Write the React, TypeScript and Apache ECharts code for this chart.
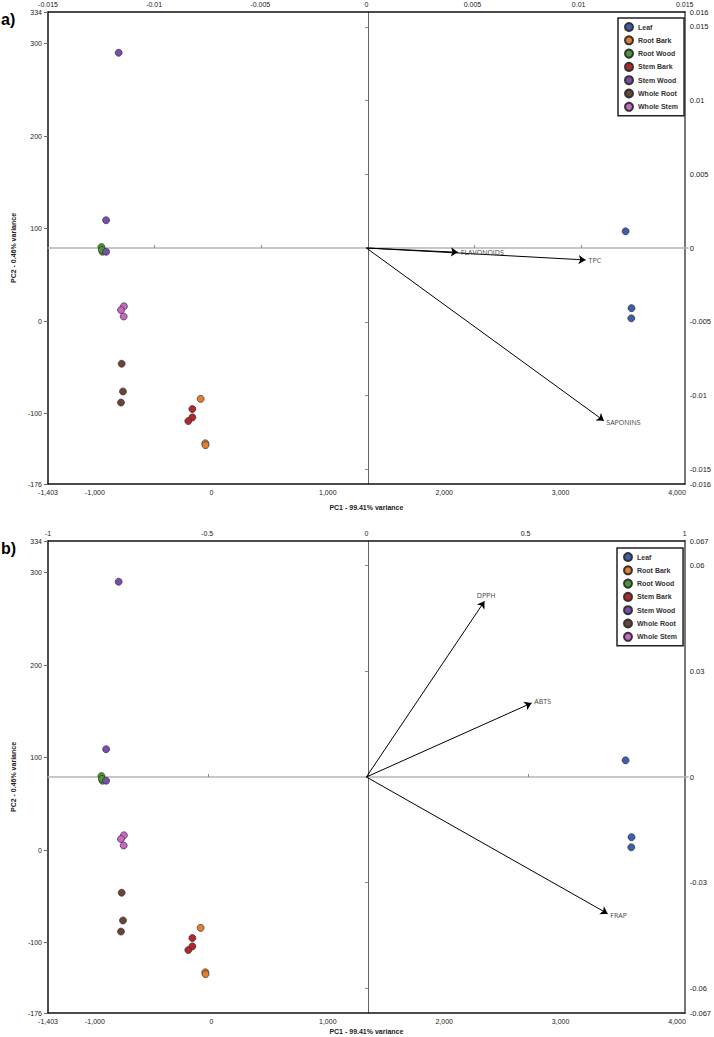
import React, { useEffect, useRef } from "react";
import * as echarts from "echarts";

// ---- Data ----
const groups = ["Leaf", "Root Bark", "Root Wood", "Stem Bark", "Stem Wood", "Whole Root", "Whole Stem"];
const groupColors = ["#3d5ea8", "#e47d2c", "#4b9a2f", "#b5262b", "#7a4bb0", "#6b4238", "#cc66c4"];

// PCA scores (PC1, PC2) per group
const leafScores = [[3558, 97], [3609, 14], [3607, 3]];
const rootBarkScores = [[-92, -84], [-52, -132], [-50, -134]];
const rootWoodScores = [[-944, 80], [-935, 75], [-940, 77]];
const stemBarkScores = [[-163, -95], [-163, -104], [-198, -108]];
const stemWoodScores = [[-796, 290], [-904, 109], [-904, 75]];
const wholeRootScores = [[-770, -46], [-759, -76], [-776, -88]];
const wholeStemScores = [[-751, 16], [-776, 12], [-753, 5]];
const scoresByGroup = [leafScores, rootBarkScores, rootWoodScores, stemBarkScores, stemWoodScores, wholeRootScores, wholeStemScores];

// Loadings panel a)
const loadingNamesA = ["FLAVONOIDS", "TPC", "SAPONINS"];
const loadingValuesA = [[0.00431, -0.00029], [0.01033, -0.00081], [0.01119, -0.01171]];
// Loadings panel b)
const loadingNamesB = ["DPPH", "ABTS", "FRAP"];
const loadingValuesB = [[0.371, 0.0499], [0.519, 0.021], [0.758, -0.0388]];

// Tick labels
const pc1Ticks = [-1403, -1000, 0, 1000, 2000, 3000, 4000];
const pc2Ticks = [-176, -100, 0, 100, 200, 300, 334];
const topTicksA = [-0.015, -0.01, -0.005, 0, 0.005, 0.01, 0.015];
const innerXTicksA = [-0.01, -0.005, 0.005, 0.01];
const rightTicksA = [-0.016, -0.015, -0.01, -0.005, 0, 0.005, 0.01, 0.015, 0.016];
const innerYTicksA = [-0.015, -0.01, -0.005, 0.005, 0.01, 0.015];
const topTicksB = [-1, -0.5, 0, 0.5, 1];
const innerXTicksB = [-0.5, 0.5];
const rightTicksB = [-0.067, -0.06, -0.03, 0, 0.03, 0.06, 0.067];
const innerYTicksB = [-0.06, -0.03, 0.03, 0.06];

const PC1_MIN = -1403, PC1_MAX = 4066, PC2_MIN = -176, PC2_MAX = 334;

const FONT = "Liberation Sans, Arial, sans-serif";
const fmtInt = (v: number) => Math.round(v).toLocaleString("en-US");
const fmtDec = (v: number) => String(Number(v.toFixed(4)));

function panelAxes(gridOuter: number, gridInner: number, topMin: number, topMax: number, topTicks: number[], innerXTicks: number[], rightMin: number, rightMax: number, rightTicks: number[], innerYTicks: number[], nameGap: number) {
  const tickFont = { fontSize: 7, color: "#222", fontFamily: FONT };
  const xAxes = [
    {
      type: "value", gridIndex: gridOuter, position: "bottom", min: PC1_MIN, max: PC1_MAX,
      axisLine: { onZero: false, lineStyle: { color: "#111", width: 1.5 } },
      axisTick: { show: false },
      axisLabel: { ...tickFont, margin: 5, customValues: pc1Ticks, formatter: fmtInt },
      splitLine: { show: false },
      name: "PC1 - 99.41% variance", nameLocation: "middle", nameGap,
      nameTextStyle: { fontSize: 7, fontWeight: "bold", color: "#222", fontFamily: FONT },
    },
    {
      type: "value", gridIndex: gridOuter, position: "top", min: topMin, max: topMax,
      axisLine: { onZero: false, lineStyle: { color: "#111", width: 1.5 } },
      axisTick: { show: false },
      axisLabel: { ...tickFont, margin: 4, customValues: topTicks, formatter: fmtDec },
      splitLine: { show: false },
    },
    {
      type: "value", gridIndex: gridInner, min: topMin, max: topMax,
      axisLine: { onZero: true, lineStyle: { color: "#b5b5b5", width: 1.5 } },
      axisTick: { show: true, inside: true, length: 3, customValues: innerXTicks, lineStyle: { color: "#888", width: 1 } },
      axisLabel: { show: false },
      splitLine: { show: false },
    },
  ];
  const yAxes = [
    {
      type: "value", gridIndex: gridOuter, position: "left", min: PC2_MIN, max: PC2_MAX,
      axisLine: { onZero: false, lineStyle: { color: "#111", width: 1.5 } },
      axisTick: { show: true, length: 4, customValues: pc2Ticks, lineStyle: { color: "#666" } },
      axisLabel: { ...tickFont, margin: 6, customValues: pc2Ticks, formatter: fmtInt },
      splitLine: { show: false },
      name: "PC2 - 0.46% variance", nameLocation: "middle", nameGap: 20,
      nameTextStyle: { fontSize: 7, fontWeight: "bold", color: "#222", fontFamily: FONT },
    },
    {
      type: "value", gridIndex: gridOuter, position: "right", min: rightMin, max: rightMax,
      axisLine: { onZero: false, lineStyle: { color: "#777", width: 2 } },
      axisTick: { show: false },
      axisLabel: { fontSize: 7.5, color: "#222", fontFamily: FONT, margin: 5, customValues: rightTicks, formatter: fmtDec },
      splitLine: { show: false },
    },
    {
      type: "value", gridIndex: gridInner, min: rightMin, max: rightMax,
      axisLine: { onZero: true, lineStyle: { color: "#666", width: 1 } },
      axisTick: { show: true, inside: false, length: 3, customValues: innerYTicks, lineStyle: { color: "#888", width: 1 } },
      axisLabel: { show: false },
      splitLine: { show: false },
    },
  ];
  return { xAxes, yAxes };
}

function buildOption() {
  const gridA = { left: 48, top: 12, width: 640, height: 472, show: false };
  const gridB = { left: 48, top: 541, width: 640, height: 472, show: false };
  const pa = panelAxes(0, 1, -0.015, 0.015, topTicksA, innerXTicksA, -0.016, 0.016, rightTicksA, innerYTicksA, 20);
  const pb = panelAxes(2, 3, -1, 1, topTicksB, innerXTicksB, -0.067, 0.067, rightTicksB, innerYTicksB, 15);

  const series: any[] = [];
  const addScores = (xi: number, yi: number) => {
    groups.forEach((g, i) => {
      series.push({
        type: "scatter", name: g, xAxisIndex: xi, yAxisIndex: yi,
        symbol: "circle", symbolSize: 7, z: 5,
        itemStyle: { color: groupColors[i], borderColor: "#333", borderWidth: 0.7, opacity: 1 },
        data: scoresByGroup[i],
      });
    });
  };
  addScores(0, 0);
  addScores(3, 3);

  const addLoadings = (xi: number, yi: number, names: string[], vals: number[][]) => {
    series.push({
      type: "lines", coordinateSystem: "cartesian2d", xAxisIndex: xi, yAxisIndex: yi,
      symbol: ["none", "arrow"], symbolSize: 7, z: 4,
      lineStyle: { color: "#000", width: 1, opacity: 1 },
      label: { show: true, position: "end", formatter: "{b}", fontSize: 7, color: "#444", fontFamily: "Open Sans, sans-serif", distance: 3 },
      data: names.map((n, i) => ({ name: n, coords: [[0, 0], vals[i]] })),
    });
  };
  addLoadings(1, 1, loadingNamesA, loadingValuesA);
  addLoadings(4, 4, loadingNamesB, loadingValuesB);

  const legendBase = {
    data: groups, orient: "vertical", icon: "circle", itemWidth: 8, itemHeight: 8, itemGap: 3.3,
    padding: [4, 6, 4, 6], borderColor: "#222", borderWidth: 1.5, backgroundColor: "#fff",
    textStyle: { fontSize: 7, fontWeight: "bold", color: "#333", fontFamily: FONT, lineHeight: 8 },
    selectedMode: false,
  };

  return {
    animation: false,
    backgroundColor: "#fff",
    grid: [gridA, { ...gridA }, gridB, { ...gridB }],
    xAxis: [...pa.xAxes, ...pb.xAxes],
    yAxis: [...pa.yAxes, ...pb.yAxes],
    legend: [
      { ...legendBase, left: 618, top: 18 },
      { ...legendBase, left: 617, top: 548 },
    ],
    graphic: [
      { type: "text", left: 1, top: 11, style: { text: "a)", font: "bold 16px Liberation Sans, Arial, sans-serif", fill: "#000" } },
      { type: "text", left: 1, top: 540, style: { text: "b)", font: "bold 16px Liberation Sans, Arial, sans-serif", fill: "#000" } },
    ],
    series,
  };
}

export default function App() {
  const ref = useRef<HTMLDivElement>(null);
  useEffect(() => {
    if (!ref.current) return;
    const chart = echarts.init(ref.current, undefined, { renderer: "svg" });
    chart.setOption(buildOption() as any);
    return () => chart.dispose();
  }, []);
  return <div ref={ref} style={{ position: "fixed", left: 0, top: 0, width: 714, height: 1037, background: "#fff" }} />;
}
